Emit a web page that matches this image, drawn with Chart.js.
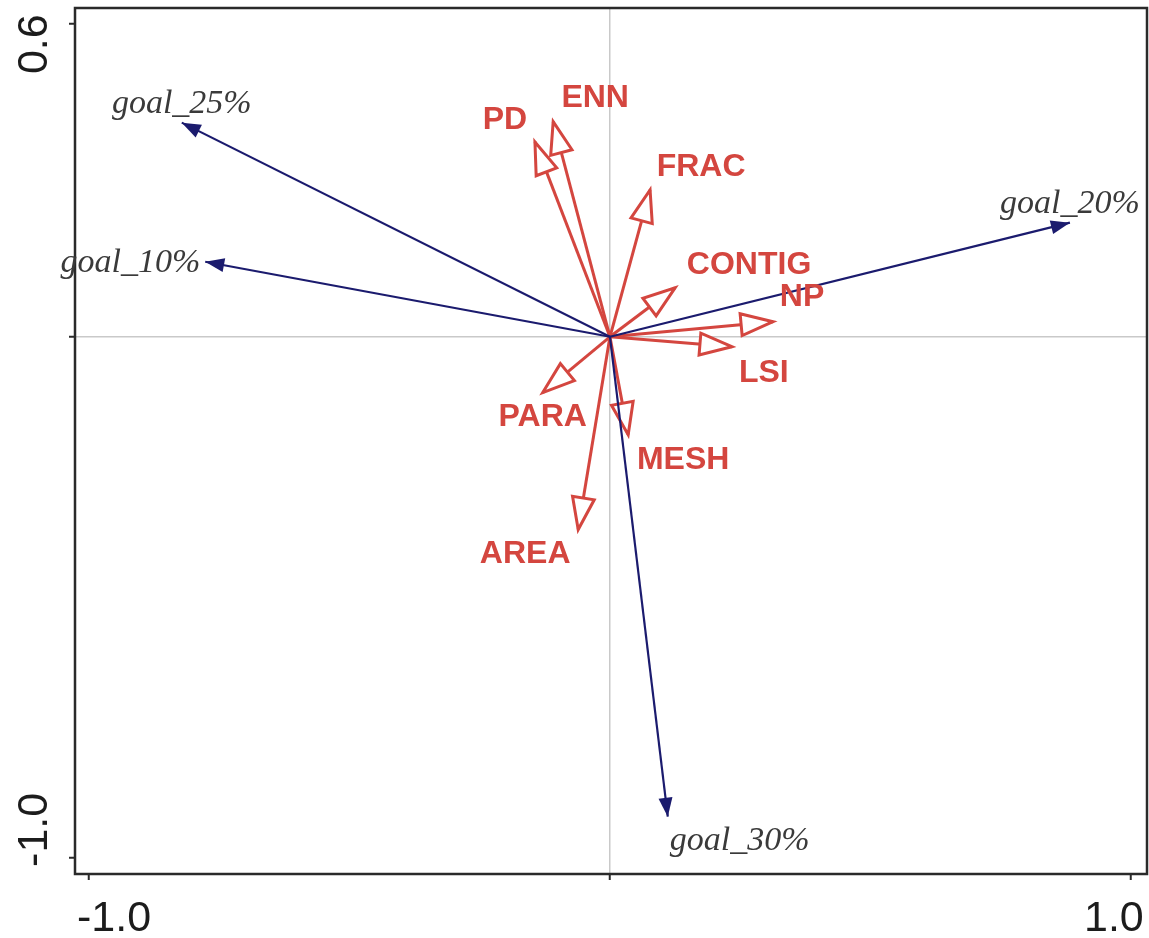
<!DOCTYPE html>
<html>
<head>
<meta charset="utf-8">
<script src="https://cdn.jsdelivr.net/npm/chart.js@4.4.1/dist/chart.umd.min.js"></script>
<style>
  html, body { margin: 0; padding: 0; background: #fff; }
  #wrap { width: 1149px; height: 938px; }
</style>
</head>
<body>
<div id="wrap"><canvas id="biplot" width="1149" height="938"></canvas></div>
<script>
// environment arrows (blue)
const goalNames = ['goal_10%', 'goal_20%', 'goal_25%', 'goal_30%'];
const goalX = [-0.777, 0.883, -0.822, 0.111];
const goalY = [0.144, 0.219, 0.411, -0.921];

// landscape metric arrows (red)
const metricNames = ['PD', 'ENN', 'FRAC', 'CONTIG', 'NP', 'LSI', 'PARA', 'MESH', 'AREA'];
const metricX = [-0.144, -0.109, 0.077, 0.125, 0.313, 0.234, -0.129, 0.035, -0.061];
const metricY = [0.374, 0.413, 0.282, 0.094, 0.029, -0.019, -0.107, -0.188, -0.370];

// tick labels
const xTickValues = [-1.0, 1.0];
const yTickValues = [0.6, -1.0];

const BLUE = '#1b1b6e';
const RED = '#d4463f';

// where each label sits relative to its arrow tip (pixels)
const goalLabelPos = {
    'goal_10%': { dx: -5, dy: 10, align: 'right' },
    'goal_20%': { dx: 0, dy: -10, align: 'center' },
    'goal_25%': { dx: 0, dy: -10, align: 'center' },
    'goal_30%': { dx: 2, dy: 33, align: 'left' }
};
const metricLabelPos = {
    'PD': { dx: -30, dy: -22 },
    'ENN': { dx: 42, dy: -23 },
    'FRAC': { dx: 51, dy: -23 },
    'CONTIG': { dx: 74, dy: -23 },
    'NP': { dx: 29, dy: -25 },
    'LSI': { dx: 32, dy: 26 },
    'PARA': { dx: 0, dy: 25 },
    'MESH': { dx: 55, dy: 25 },
    'AREA': { dx: -53, dy: 25 }
};

function arrowSet(name, x, y, color, width, head) {
    return {
        label: name,
        data: [{ x: 0, y: 0 }, { x: x, y: y }],
        showLine: true,
        borderColor: color,
        backgroundColor: color,
        borderWidth: width,
        pointRadius: 0,
        head: head
    };
}

// blue first so they are painted on top of the red ones
const datasets = [];
goalNames.forEach((n, i) => datasets.push(arrowSet(n, goalX[i], goalY[i], BLUE, 2.2, 'filled')));
metricNames.forEach((n, i) => datasets.push(arrowSet(n, metricX[i], metricY[i], RED, 3, 'open')));

function drawHead(ctx, x0, y0, x1, y1, len, half, fill, stroke, lw) {
    const a = Math.atan2(y1 - y0, x1 - x0);
    const bx = x1 - len * Math.cos(a), by = y1 - len * Math.sin(a);
    const px = -Math.sin(a) * half, py = Math.cos(a) * half;
    ctx.beginPath();
    ctx.moveTo(x1, y1);
    ctx.lineTo(bx + px, by + py);
    ctx.lineTo(bx - px, by - py);
    ctx.closePath();
    ctx.fillStyle = fill;
    ctx.fill();
    if (stroke) {
        ctx.strokeStyle = stroke;
        ctx.lineWidth = lw;
        ctx.lineJoin = 'miter';
        ctx.stroke();
    }
}

const biplotPlugin = {
    id: 'biplot',
    afterDatasetDraw(chart, args) {
        const ds = chart.data.datasets[args.index];
        const pts = args.meta.data;
        const ctx = chart.ctx;
        ctx.save();
        if (ds.head === 'open') {
            drawHead(ctx, pts[0].x, pts[0].y, pts[1].x, pts[1].y, 32, 11, '#fff', RED, 3);
        } else {
            drawHead(ctx, pts[0].x, pts[0].y, pts[1].x, pts[1].y, 19, 7, BLUE);
        }
        ctx.restore();
    },
    afterDraw(chart) {
        const ctx = chart.ctx;
        const area = chart.chartArea;
        const xs = chart.scales.x, ys = chart.scales.y;
        ctx.save();

        // frame
        ctx.strokeStyle = '#2a2a2a';
        ctx.lineWidth = 2.5;
        ctx.strokeRect(area.left, area.top, area.right - area.left, area.bottom - area.top);

        // x tick labels
        ctx.fillStyle = '#1c1c1c';
        ctx.font = '43px "Liberation Sans", Arial, sans-serif';
        ctx.textAlign = 'center';
        ctx.textBaseline = 'alphabetic';
        xTickValues.forEach(v => {
            const shift = v < 0 ? 25 : -17;
            ctx.fillText(v.toFixed(1), xs.getPixelForValue(v) + shift, 931);
        });

        // y tick labels, rotated
        yTickValues.forEach(v => {
            const shift = v > 0 ? 20 : -28;
            ctx.save();
            ctx.translate(47, ys.getPixelForValue(v) + shift);
            ctx.rotate(-Math.PI / 2);
            ctx.fillText(v.toFixed(1), 0, 0);
            ctx.restore();
        });

        // goal labels
        ctx.font = 'italic 34px "Liberation Serif", "Times New Roman", serif';
        ctx.fillStyle = '#3a3a3a';
        ctx.textBaseline = 'alphabetic';
        goalNames.forEach((n, i) => {
            const p = goalLabelPos[n];
            ctx.textAlign = p.align;
            ctx.fillText(n, xs.getPixelForValue(goalX[i]) + p.dx, ys.getPixelForValue(goalY[i]) + p.dy);
        });

        // metric labels
        ctx.font = 'bold 32px "Liberation Sans", Arial, sans-serif';
        ctx.fillStyle = RED;
        ctx.textAlign = 'center';
        ctx.textBaseline = 'middle';
        metricNames.forEach((n, i) => {
            const p = metricLabelPos[n];
            ctx.fillText(n, xs.getPixelForValue(metricX[i]) + p.dx, ys.getPixelForValue(metricY[i]) + p.dy);
        });
        ctx.restore();
    }
};

function zeroGrid(ctx) {
    return ctx.tick && ctx.tick.value === 0 ? '#c9c9c9' : 'rgba(0,0,0,0)';
}

new Chart(document.getElementById('biplot').getContext('2d'), {
    type: 'scatter',
    data: { datasets: datasets },
    options: {
        responsive: false,
        animation: false,
        events: [],
        layout: { padding: { top: 8, right: 2, left: 0, bottom: 0 } },
        plugins: {
            legend: { display: false },
            tooltip: { enabled: false }
        },
        scales: {
            x: {
                type: 'linear',
                min: -1.027,
                max: 1.031,
                afterBuildTicks: (s) => { s.ticks = [-1, 0, 1].map(v => ({ value: v })); },
                afterFit: (s) => { s.height = 64; },
                ticks: { display: false },
                border: { display: false },
                grid: {
                    color: zeroGrid,
                    lineWidth: 1.5,
                    tickColor: '#2a2a2a',
                    tickWidth: 2,
                    tickLength: 6
                }
            },
            y: {
                type: 'linear',
                min: -1.031,
                max: 0.631,
                afterBuildTicks: (s) => { s.ticks = [-1, 0, 0.6].map(v => ({ value: v })); },
                afterFit: (s) => { s.width = 75; },
                ticks: { display: false },
                border: { display: false },
                grid: {
                    color: zeroGrid,
                    lineWidth: 1.5,
                    tickColor: '#2a2a2a',
                    tickWidth: 2,
                    tickLength: 6
                }
            }
        }
    },
    plugins: [biplotPlugin]
});
</script>
</body>
</html>
